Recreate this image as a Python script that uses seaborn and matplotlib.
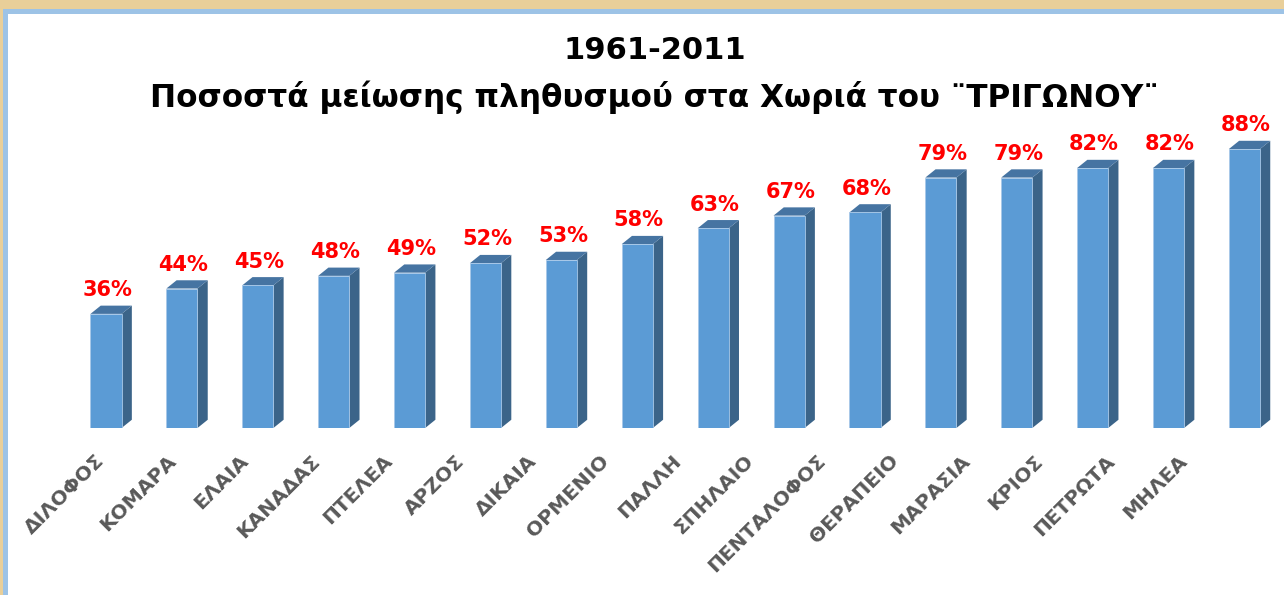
import numpy as np
import pandas as pd
import seaborn as sns
import matplotlib.pyplot as plt
from matplotlib.patches import Polygon, Rectangle

sns.set_style("white")
plt.rcParams['font.family'] = ['DejaVu Sans']

villages = ["ΔΙΛΟΦΟΣ", "ΚΟΜΑΡΑ", "ΕΛΑΙΑ", "ΚΑΝΑΔΑΣ", "ΠΤΕΛΕΑ", "ΑΡΖΟΣ", "ΔΙΚΑΙΑ",
            "ΟΡΜΕΝΙΟ", "ΠΑΛΛΗ", "ΣΠΗΛΑΙΟ", "ΠΕΝΤΑΛΟΦΟΣ", "ΘΕΡΑΠΕΙΟ", "ΜΑΡΑΣΙΑ",
            "ΚΡΙΟΣ", "ΠΕΤΡΩΤΑ", "ΜΗΛΕΑ"]
decline = [36, 44, 45, 48, 49, 52, 53, 58, 63, 67, 68, 79, 79, 82, 82, 88]

df = pd.DataFrame({"village": villages, "decline": decline})

front = "#5b9bd5"
side = "#3b6489"
top = "#4674a2"

fig = plt.figure(figsize=(12.84, 5.95), dpi=100)
fig.patch.set_facecolor("white")

# frame: beige strip + light blue border
fig.patches.append(Rectangle((0, 1 - 9 / 595), 1, 9 / 595, transform=fig.transFigure,
                             facecolor="#e9cf99", edgecolor="none", zorder=0))
fig.patches.append(Rectangle((0, 0), 3 / 1284, 1, transform=fig.transFigure,
                             facecolor="#e9cf99", edgecolor="none", zorder=0))
fig.patches.append(Rectangle((8 / 1284, 1 - 14 / 595), 1, 5 / 595, transform=fig.transFigure,
                             facecolor="#9dc3e6", edgecolor="none", zorder=1))
fig.patches.append(Rectangle((3 / 1284, 0), 5 / 1284, 1 - 9 / 595, transform=fig.transFigure,
                             facecolor="#9dc3e6", edgecolor="none", zorder=1))

ax = fig.add_axes([60.5 / 1284, 1 - 428 / 595, (1271 - 60.5) / 1284, (428 - 111) / 595])
ax.set_facecolor("none")
sns.barplot(data=df, x="village", y="decline", color=front, width=0.41,
            saturation=1, edgecolor="#a8c8e8", linewidth=0.6, ax=ax, zorder=3)

# fake 3d: side and top faces behind each bar
dx, dy = 0.135, 2.6
for p, v in zip(ax.patches, decline):
    x0, w, h = p.get_x(), p.get_width(), p.get_height()
    ax.add_patch(Polygon([(x0 + w, 0), (x0 + w + dx, dy), (x0 + w + dx, h + dy), (x0 + w, h)],
                         closed=True, facecolor=side, edgecolor="none", zorder=2))
    ax.add_patch(Polygon([(x0, h), (x0 + dx, h + dy), (x0 + w + dx, h + dy), (x0 + w, h)],
                         closed=True, facecolor=top, edgecolor="none", zorder=2))
    ax.text(x0 + w / 2 + 0.02, h + 5.6, f"{v}%", ha="center", va="baseline",
            color="#ff0000", fontsize=15, fontweight="bold")

ax.set_xlim(-0.6, 15.35)
ax.set_ylim(0, 100)
ax.set_xlabel("")
ax.set_ylabel("")
ax.set_yticks([])
ax.set_xticks([])
for s in ax.spines.values():
    s.set_visible(False)

# category labels, drifting slightly left like the original's perspective
for i, name in enumerate(villages):
    ax.text(i - (5 + 3.7 * i) / 75.9, -9.5, name,
            rotation=45, ha="right", va="center", rotation_mode="anchor",
            fontsize=14.5, fontweight="bold", color="#595959", clip_on=False)

fig.text(0.51, 1 - 59 / 595, "1961-2011", ha="center", va="baseline",
         fontsize=22, fontweight="bold", color="black")
fig.text(0.51, 1 - 107 / 595, "Ποσοστά μείωσης πληθυσμού στα Χωριά του ¨ΤΡΙΓΩΝΟΥ¨",
         ha="center", va="baseline", fontsize=22.4, fontweight="bold", color="black")

fig.savefig("out.png", dpi=100)
